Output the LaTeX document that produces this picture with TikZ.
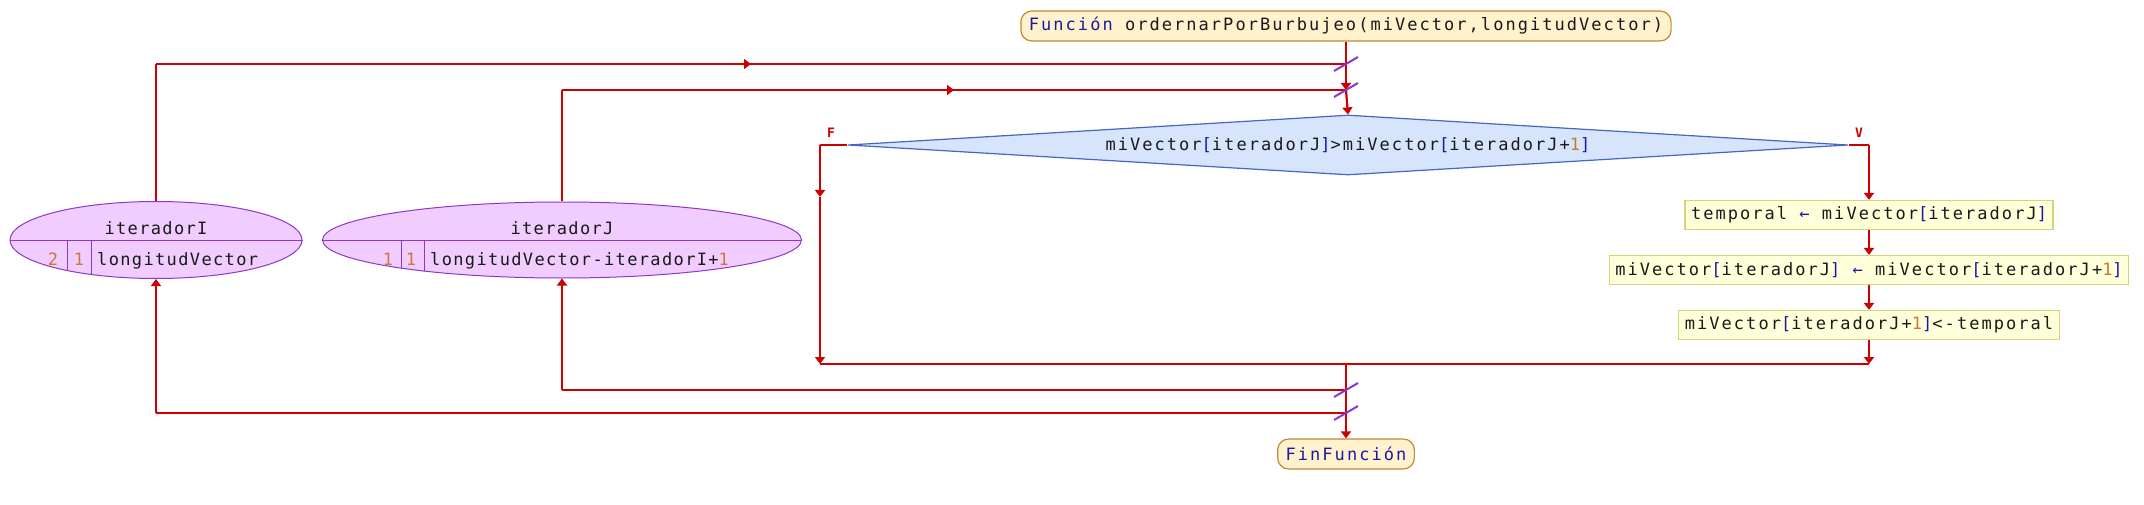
\documentclass[tikz,border=0pt]{standalone}
\usepackage{fontspec}
\setmonofont{DejaVu Sans Mono}[LetterSpace=12]
\usetikzlibrary{arrows.meta, calc, positioning, shapes.geometric, decorations.markings}

\definecolor{rojo}{HTML}{CC0000}
\definecolor{lila}{HTML}{8E35D0}
\definecolor{rosa}{HTML}{F1CCFF}
\definecolor{crema}{HTML}{FFF2CC}
\definecolor{ocre}{HTML}{C08A30}
\definecolor{celeste}{HTML}{D6E4FC}
\definecolor{azul}{HTML}{4466C4}
\definecolor{amarillo}{HTML}{FFFFD9}
\definecolor{oliva}{HTML}{D4D47A}
\definecolor{clave}{HTML}{1A1AA0}
\definecolor{numero}{HTML}{C87A3A}
\definecolor{texto}{HTML}{1A1A1A}

\newcommand{\kw}[1]{\textcolor{clave}{#1}}
\newcommand{\nro}[1]{\textcolor{numero}{#1}}
\newcommand{\lcor}{\textcolor{clave}{[}}
\newcommand{\rcor}{\textcolor{clave}{]}}
\newcommand{\asig}{\textcolor{clave}{←}}

\begin{document}
\begin{tikzpicture}[
    x=1pt, y=-1pt,
    >={Triangle[width=10pt, length=7pt]},
    every node/.style = {font=\ttfamily\fontsize{17}{20}\selectfont, text=texto},
    terminal/.style = {draw=ocre, fill=crema, line width=1.2pt, rounded corners=11pt, minimum height=30pt, inner xsep=8pt},
    proceso/.style = {draw=oliva, fill=amarillo, line width=1.2pt, minimum height=29pt, inner xsep=6pt},
    decision/.style = {diamond, aspect=16.7, draw=azul, fill=celeste, line width=1.2pt, minimum width=1000pt, minimum height=60pt, inner sep=0pt},
    ciclo/.style = {ellipse, draw=lila, fill=rosa, line width=1pt, inner sep=0pt},
    flujo/.style = {draw=rojo, line width=2.2pt},
    corte/.style = {draw=lila, line width=2pt},
    medio/.style = {postaction={decorate}, decoration={markings, mark=at position 0.5 with {\arrow[rojo]{Triangle[width=10pt, length=7pt]}}}},
    etiqueta/.style = {font=\ttfamily\bfseries\fontsize{13}{15}\selectfont, text=rojo},
    fila/.style = {anchor=base, inner sep=0pt, font=\ttfamily\fontsize{17}{20}\selectfont\addfontfeature{LetterSpace=8}}
]
    \useasboundingbox (0,0) rectangle (2144,505);

    % bloques principales
    \node[terminal] (inicio) at (1346,26) {\kw{Función} ordernarPorBurbujeo(miVector,longitudVector)};
    \node[decision] (cond) at (1348,145) {miVector\lcor iteradorJ\rcor>miVector\lcor iteradorJ+\nro{1}\rcor};
    \node[etiqueta] (falso) at (831,133) {F};
    \node[etiqueta] (verdad) at (1859,133) {V};
    \node[proceso] (t1) at (1869,215) {temporal \asig{} miVector\lcor iteradorJ\rcor};
    \node[proceso] (t2) at (1869,270) {miVector\lcor iteradorJ\rcor{} \asig{} miVector\lcor iteradorJ+\nro{1}\rcor};
    \node[proceso] (t3) at (1869,325) {miVector\lcor iteradorJ+\nro{1}\rcor<-temporal};
    \node[terminal] (fin) at (1346,454) {\kw{FinFunción}};

    % ciclo iteradorI
    \node[ciclo, minimum width=292pt, minimum height=77pt] (I) at (156,240) {};
    \draw[lila, line width=1pt] (I.west) -- (I.east);
    \begin{scope}
        \clip (I.center) ellipse [x radius=146pt, y radius=38.5pt];
        \draw[lila, line width=1pt] (67,240) -- (67,290) (91,240) -- (91,290);
    \end{scope}
    \node[fila] (nomI) at (156,235) {iteradorI};
    \node[fila] (pasoI) at (53,265) {\nro{2}};
    \node[fila] (iniI) at (79,265) {\nro{1}};
    \node[fila, anchor=base west] (finI) at (97,265) {longitudVector};

    % ciclo iteradorJ
    \node[ciclo, minimum width=479pt, minimum height=76pt] (J) at (562,240) {};
    \draw[lila, line width=1pt] (J.west) -- (J.east);
    \begin{scope}
        \clip (J.center) ellipse [x radius=239.5pt, y radius=38pt];
        \draw[lila, line width=1pt] (401,240) -- (401,290) (424,240) -- (424,290);
    \end{scope}
    \node[fila] (nomJ) at (562,235) {iteradorJ};
    \node[fila] (pasoJ) at (388,265) {\nro{1}};
    \node[fila] (iniJ) at (411,265) {\nro{1}};
    \node[fila, anchor=base west] (finJ) at (430,265) {longitudVector-iteradorI+\nro{1}};

    % puntos de paso
    \coordinate (cI1) at (156,64);
    \coordinate (jI1) at (1346,64);
    \coordinate (cJ1) at (562,90);
    \coordinate (jJ1) at (1346,90);
    \coordinate (fIzq) at (820,145);
    \coordinate (fFle) at (820,197);
    \coordinate (fDer) at (1869,145);
    \coordinate (uIzq) at (820,364);
    \coordinate (uMed) at (1346,364);
    \coordinate (uDer) at (1869,364);
    \coordinate (jJ2) at (1346,390);
    \coordinate (cJ2) at (562,390);
    \coordinate (jI2) at (1346,413);
    \coordinate (cI2) at (156,413);

    % conectores
    \draw[flujo, ->] (inicio.south) -- (jJ1);
    \draw[flujo, ->] (jJ1) -- (cond.north);
    \draw[flujo] (I.north) -- (cI1);
    \draw[flujo, medio] (cI1) -- (jI1);
    \draw[flujo] (J.north) -- (cJ1);
    \draw[flujo, medio] (cJ1) -- (jJ1);

    \draw[flujo] (cond.west) -- (fIzq);
    \draw[flujo, ->] (fIzq) -- (fFle);
    \draw[flujo, ->] (fFle) -- (uIzq);
    \draw[flujo] (cond.east) -- (fDer);
    \draw[flujo, ->] (fDer) -- (t1.north);
    \draw[flujo, ->] (t1) -- (t2);
    \draw[flujo, ->] (t2) -- (t3);
    \draw[flujo, ->] (t3.south) -- (uDer);
    \draw[flujo] (uIzq) -- (uDer);

    \draw[flujo, ->] (uMed) -- (fin.north);
    \draw[flujo] (jJ2) -- (cJ2);
    \draw[flujo, ->] (cJ2) -- (J.south);
    \draw[flujo] (jI2) -- (cI2);
    \draw[flujo, ->] (cI2) -- (I.south);

    \foreach \c in {jI1, jJ1, jJ2, jI2}
        \draw[corte] ($(\c)+(-12,7)$) -- ($(\c)+(12,-7)$);
\end{tikzpicture}
\end{document}
